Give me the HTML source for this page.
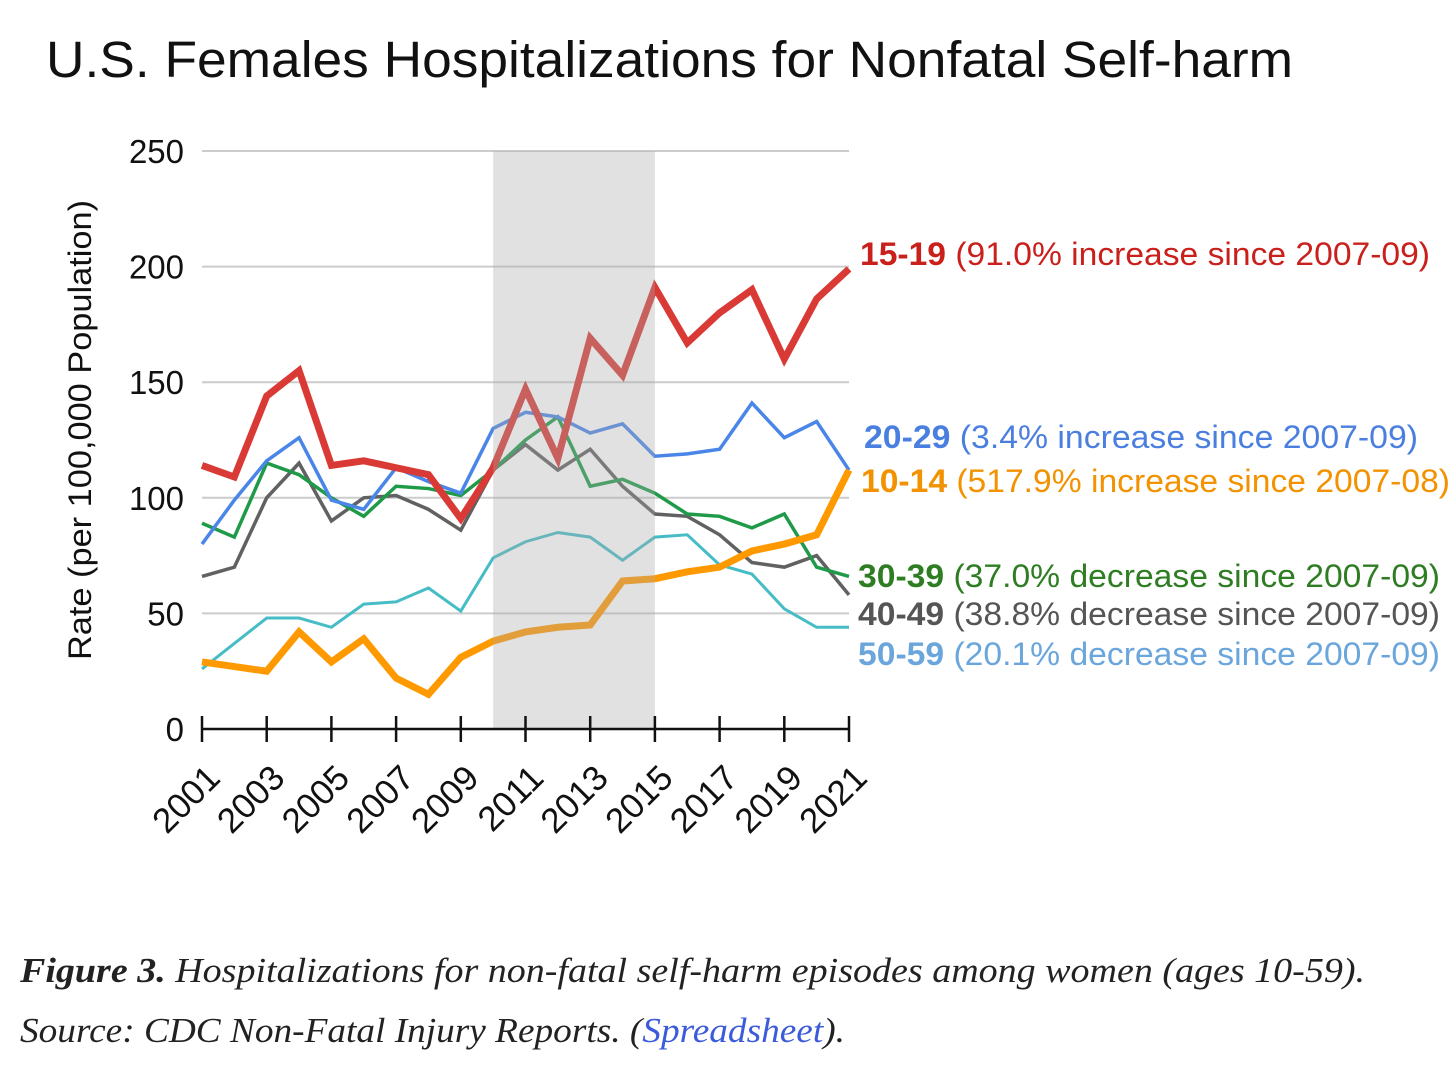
<!DOCTYPE html>
<html><head><meta charset="utf-8"><style>
body{margin:0;background:#fff;width:1456px;height:1077px;overflow:hidden}
svg{display:block}
.lbl{font-family:"Liberation Sans",sans-serif;font-size:32px}
.cap{font-family:"Liberation Serif",serif;font-style:italic;font-size:35px;fill:#222}
</style></head><body>
<svg id="chart" width="1456" height="1077">
<text x="46" y="77" textLength="1247" lengthAdjust="spacingAndGlyphs" font-family="Liberation Sans,sans-serif" font-size="51" fill="#111">U.S. Females Hospitalizations for Nonfatal Self-harm</text>
<text transform="translate(91,430) rotate(-90)" text-anchor="middle" textLength="460" lengthAdjust="spacingAndGlyphs" font-family="Liberation Sans,sans-serif" font-size="32" fill="#111">Rate (per 100,000 Population)</text>
<g id="grid"></g><g id="lines"></g><g id="overlay"></g><g id="axis"></g><g id="labels"></g>
<text class="cap" x="20" y="982" textLength="1345" lengthAdjust="spacingAndGlyphs"><tspan font-weight="bold">Figure 3.</tspan> Hospitalizations for non-fatal self-harm episodes among women (ages 10-59).</text>
<text class="cap" x="20" y="1042" textLength="825" lengthAdjust="spacingAndGlyphs">Source: CDC Non-Fatal Injury Reports. (<tspan fill="#3b5bdb">Spreadsheet</tspan>).</text>
</svg>
<script>
const years=[2001,2002,2003,2004,2005,2006,2007,2008,2009,2010,2011,2012,2013,2014,2015,2016,2017,2018,2019,2020,2021];
const yTicks=[0,50,100,150,200,250];
const xTickLabels=[2001,2003,2005,2007,2009,2011,2013,2015,2017,2019,2021];
const s1519=[114,109,144,155,114,116,113,110,91,113,147,117,169,153,191,167,180,190,160,186,199];
const s2029=[80,99,116,126,99,95,113,107,102,130,137,135,128,132,118,119,121,141,126,133,112];
const s1014=[29,27,25,42,29,39,22,15,31,38,42,44,45,64,65,68,70,77,80,84,112];
const s3039=[89,83,115,110,100,92,105,104,101,112,125,135,105,108,102,93,92,87,93,70,66];
const s4049=[66,70,100,115,90,100,101,95,86,112,123,112,121,105,93,92,84,72,70,75,58];
const s5059=[26,37,48,48,44,54,55,61,51,74,81,85,83,73,83,84,71,67,52,44,44];
const shadeRange=[2010,2015];
const NS='http://www.w3.org/2000/svg';
const x=v=>202+(v-2001)*(849-202)/20;
const y=v=>729-v*(729-151)/250;
function mk(t,a,p){const e=document.createElementNS(NS,t);for(const k in a)e.setAttribute(k,a[k]);p.appendChild(e);return e;}
const grid=document.getElementById('grid');
yTicks.forEach(t=>{
  if(t>0){const l=mk('line',{x1:202,x2:849,y1:y(t),y2:y(t),stroke:'#ccc','stroke-width':2},grid);
  
  }
  const tx=mk('text',{x:184,y:y(t)+12,'text-anchor':'end','font-family':'Liberation Sans,sans-serif','font-size':33,fill:'#111'},grid);
  tx.textContent=t;
  
  
});
const series=[
 ['series-50-59',s5059,'#46bdc6',3],
 ['series-40-49',s4049,'#616161',3.5],
 ['series-30-39',s3039,'#1e9a48',3.5],
 ['series-20-29',s2029,'#4a86e8',3.5],
 ['series-10-14',s1014,'#ff9900',7],
 ['series-15-19',s1519,'#d93a35',7]];
const lines=document.getElementById('lines');
series.forEach(([n,d,c,w])=>{
  const p=mk('polyline',{points:d.map((v,i)=>x(years[i])+','+y(v)).join(' '),fill:'none',stroke:c,'stroke-width':w,'stroke-linejoin':'miter'},lines);
  
  
});
const ov=document.getElementById('overlay');
const r=mk('rect',{x:x(shadeRange[0]),y:y(250),width:x(shadeRange[1])-x(shadeRange[0]),height:y(0)-y(250),fill:'rgba(170,170,170,0.35)'},ov);


const ax=document.getElementById('axis');
const al=mk('line',{x1:202,x2:849,y1:729,y2:729,stroke:'#111','stroke-width':2.5},ax);


xTickLabels.forEach(t=>{
  const tk=mk('line',{x1:x(t),x2:x(t),y1:716,y2:742,stroke:'#111','stroke-width':2.5},ax);
  
  
  const tx=mk('text',{transform:`translate(${x(t)+20},${780}) rotate(-45)`,'text-anchor':'end','font-family':'Liberation Sans,sans-serif','font-size':35,fill:'#111'},ax);
  tx.textContent=t;
  
  
});
const labs=[
 ['15-19',' (91.0% increase since 2007-09)','#c9201c',860,265,570,'label-15-19'],
 ['20-29',' (3.4% increase since 2007-09)','#4a7fe0',864,448,554,'label-20-29'],
 ['10-14',' (517.9% increase since 2007-08)','#f39200',861,492,589,'label-10-14'],
 ['30-39',' (37.0% decrease since 2007-09)','#2e7d22',858,587,582,'label-30-39'],
 ['40-49',' (38.8% decrease since 2007-09)','#555',858,625,582,'label-40-49'],
 ['50-59',' (20.1% decrease since 2007-09)','#6aa6dc',858,665,582,'label-50-59']];
const lg=document.getElementById('labels');
labs.forEach(([a,b,c,lx,ly,w,n])=>{
  const t=mk('text',{x:lx,y:ly,fill:c,class:'lbl',textLength:w,lengthAdjust:'spacingAndGlyphs'},lg);
  
  
  const s1=mk('tspan',{'font-weight':'bold'},t);s1.textContent=a;
  const s2=mk('tspan',{},t);s2.textContent=b;
});
</script>
</body></html>
